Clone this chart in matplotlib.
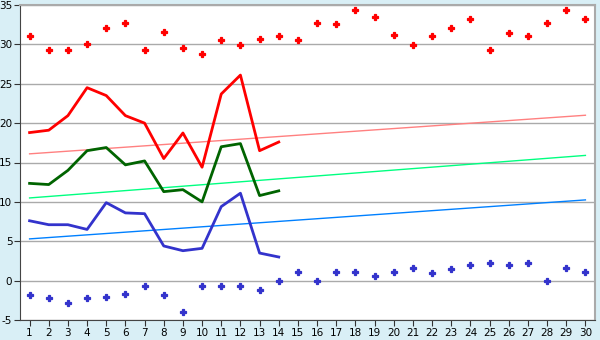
import numpy as np
import matplotlib
matplotlib.use('Agg')
import matplotlib.pyplot as plt

plt.rcParams['axes.unicode_minus'] = False

# data
days = list(range(1, 31))
days_obs = list(range(1, 15))

max_pts = [31.1, 29.3, 29.3, 30.0, 32.1, 32.7, 29.3, 31.6, 29.5, 28.8,
           30.6, 29.9, 30.7, 31.1, 30.6, 32.7, 32.6, 34.4, 33.5, 31.2,
           29.9, 31.1, 32.1, 33.2, 29.3, 31.5, 31.1, 32.7, 34.4, 33.2]
min_pts = [-1.8, -2.2, -2.8, -2.2, -2.1, -1.7, -0.7, -1.8, -4.0, -0.7,
           -0.7, -0.7, -1.2, 0.0, 1.1, 0.0, 1.1, 1.1, 0.6, 1.1,
           1.6, 1.0, 1.5, 2.0, 2.2, 2.0, 2.2, 0.0, 1.6, 1.1]

red_line = [18.8, 19.1, 20.95, 24.5, 23.5, 20.95, 20.0, 15.5, 18.75, 14.4,
            23.7, 26.1, 16.5, 17.6]
green_line = [12.35, 12.2, 14.0, 16.5, 16.9, 14.7, 15.2, 11.3, 11.55, 10.0,
              17.0, 17.4, 10.8, 11.4]
blue_line = [7.6, 7.1, 7.1, 6.5, 9.9, 8.6, 8.5, 4.4, 3.8, 4.1,
             9.4, 11.1, 3.5, 3.0]

# trend lines (start and end values)
trend_x = [1, 30]
trend_red = [16.1, 21.0]
trend_green = [10.5, 15.9]
trend_blue = [5.3, 10.25]

bg = '#d9eff6'
fig = plt.figure(figsize=(6, 3.4), dpi=100, facecolor=bg)
ax = fig.add_axes([20 / 600, 20 / 340, 575 / 600, 315 / 340])
ax.set_facecolor('white')

ax.yaxis.grid(True, color='#aaaaaa', linewidth=1)
ax.set_axisbelow(True)

ax.plot(trend_x, trend_red, color='#ff8080', linewidth=1)
ax.plot(trend_x, trend_green, color='#00ff80', linewidth=1)
ax.plot(trend_x, trend_blue, color='#0080ff', linewidth=1)

ax.plot(days_obs, red_line, color='#ff0000', linewidth=2)
ax.plot(days_obs, green_line, color='#006400', linewidth=2)
ax.plot(days_obs, blue_line, color='#3333cc', linewidth=2)

ax.plot(days, max_pts, 'P', color='#ff0000', markersize=4.5, markeredgewidth=0.9)
ax.plot(days, min_pts, 'P', color='#3333cc', markersize=4.5, markeredgewidth=0.9)

ax.set_xlim(0.5, 30.5)
ax.set_ylim(-5, 35)
ax.set_xticks(days)
ax.set_yticks(range(-5, 36, 5))
ax.tick_params(labelsize=7.5, length=4, color='#333333', pad=1.5)

for s in ['top', 'right']:
    ax.spines[s].set_color('#aaaaaa')
    ax.spines[s].set_linewidth(1.5)
for s in ['left', 'bottom']:
    ax.spines[s].set_color('#444444')

fig.savefig('out.png', dpi=100, facecolor=bg)
